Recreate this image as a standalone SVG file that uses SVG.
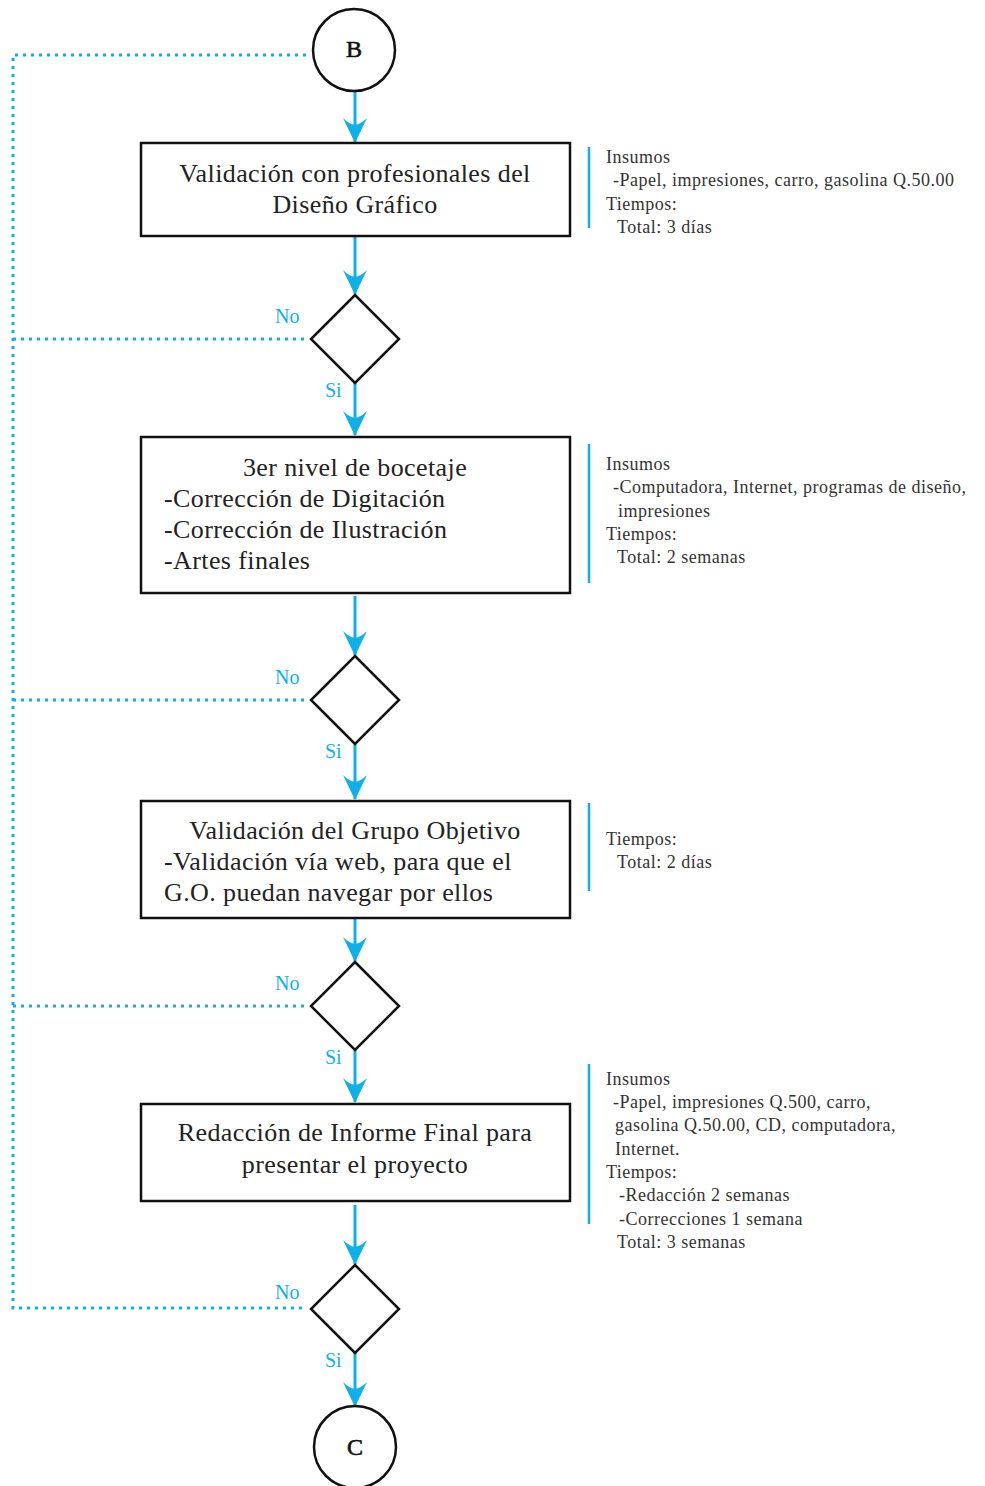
<svg xmlns="http://www.w3.org/2000/svg" width="985" height="1486" viewBox="0 0 985 1486">
  <style>
    .box { fill: #fff; stroke: #111; stroke-width: 2.5; }
    .term { fill: #fff; stroke: #111; stroke-width: 2.5; }
    .flow { fill: none; stroke: #0fb0ea; stroke-width: 3; }
    .loop { fill: none; stroke: #0fb0ea; stroke-width: 3; stroke-dasharray: 3 5; }
    .bar { stroke: #0fb0ea; stroke-width: 2.5; }
    .main { font-family: "Liberation Serif", "DejaVu Serif", serif; font-size: 26px; letter-spacing: 0.4px; fill: #222; }
    .mid { text-anchor: middle; }
    .note { font-family: "Liberation Serif", "DejaVu Serif", serif; font-size: 18px; letter-spacing: 0.5px; fill: #333; }
    .lbl { font-family: "Liberation Serif", "DejaVu Serif", serif; font-size: 20px; fill: #0fb0ea; }
    .tlabel { font-family: "Liberation Serif", "DejaVu Serif", serif; font-size: 24px; fill: #111; stroke: #111; stroke-width: 0.6; text-anchor: middle; }
  </style>
  <defs>
    <marker id="head" markerWidth="26" markerHeight="24" refX="25" refY="12" orient="auto" markerUnits="userSpaceOnUse" viewBox="0 0 26 24">
      <path d="M26,12 L1,0 Q7,6 8,12 Q7,18 1,24 Z" fill="#0fb0ea"/>
    </marker>
  </defs>

  <!-- connectors -->
  <g id="connectors">
    <!-- return loop on the left -->
    <path class="loop" d="M306,55 H13 V1308 H306"/>
    <line class="loop" x1="13" y1="339" x2="306" y2="339"/>
    <line class="loop" x1="13" y1="700" x2="306" y2="700"/>
    <line class="loop" x1="13" y1="1006" x2="306" y2="1006"/>

    <!-- main flow -->
    <path class="flow" d="M355,91 V142" marker-end="url(#head)"/>
    <path class="flow" d="M355,236 V294" marker-end="url(#head)"/>
    <path class="flow" d="M355,383 V435" marker-end="url(#head)"/>
    <path class="flow" d="M355,596 V655" marker-end="url(#head)"/>
    <path class="flow" d="M355,744 V799" marker-end="url(#head)"/>
    <path class="flow" d="M355,918 V961" marker-end="url(#head)"/>
    <path class="flow" d="M355,1050 V1102" marker-end="url(#head)"/>
    <path class="flow" d="M355,1205 V1264" marker-end="url(#head)"/>
    <path class="flow" d="M355,1353 V1406" marker-end="url(#head)"/>

    <!-- branch labels -->
    <text class="lbl" x="275" y="323">No</text>
    <text class="lbl" x="325" y="397">Si</text>
    <text class="lbl" x="275" y="684">No</text>
    <text class="lbl" x="325" y="758">Si</text>
    <text class="lbl" x="275" y="990">No</text>
    <text class="lbl" x="325" y="1064">Si</text>
    <text class="lbl" x="275" y="1299">No</text>
    <text class="lbl" x="325" y="1367">Si</text>
  </g>

  <!-- start connector B -->
  <g id="node-b">
    <circle class="term" cx="354" cy="50" r="41"/>
    <text class="tlabel" x="354" y="57">B</text>
  </g>

  <!-- step 1 -->
  <g id="node-validacion-profesionales">
    <rect class="box" x="141" y="143" width="429" height="93"/>
    <text class="main mid" x="355" y="182">Validación con profesionales del</text>
    <text class="main mid" x="355" y="213">Diseño Gráfico</text>
  </g>
  <g id="note-1">
    <line class="bar" x1="589" y1="147" x2="589" y2="228"/>
    <text class="note" x="606" y="163">Insumos</text>
    <text class="note" x="613" y="186">-Papel, impresiones, carro, gasolina Q.50.00</text>
    <text class="note" x="606" y="210">Tiempos:</text>
    <text class="note" x="617" y="233">Total: 3 días</text>
  </g>

  <g id="decision-1">
    <polygon class="box" points="355,295 399,339 355,383 311,339"/>
  </g>

  <!-- step 2 -->
  <g id="node-bocetaje">
    <rect class="box" x="141" y="437" width="429" height="156"/>
    <text class="main mid" x="355" y="476">3er nivel de bocetaje</text>
    <text class="main" x="164" y="507">-Corrección de Digitación</text>
    <text class="main" x="164" y="538">-Corrección de Ilustración</text>
    <text class="main" x="164" y="569">-Artes finales</text>
  </g>
  <g id="note-2">
    <line class="bar" x1="589" y1="444" x2="589" y2="583"/>
    <text class="note" x="606" y="470">Insumos</text>
    <text class="note" x="613" y="493">-Computadora, Internet, programas de diseño,</text>
    <text class="note" x="618" y="517">impresiones</text>
    <text class="note" x="606" y="540">Tiempos:</text>
    <text class="note" x="617" y="563">Total: 2 semanas</text>
  </g>

  <g id="decision-2">
    <polygon class="box" points="355,656 399,700 355,744 311,700"/>
  </g>

  <!-- step 3 -->
  <g id="node-grupo-objetivo">
    <rect class="box" x="141" y="801" width="429" height="117"/>
    <text class="main mid" x="355" y="839">Validación del Grupo Objetivo</text>
    <text class="main" x="164" y="870">-Validación vía web, para que el</text>
    <text class="main" x="164" y="901">G.O. puedan navegar por ellos</text>
  </g>
  <g id="note-3">
    <line class="bar" x1="589" y1="803" x2="589" y2="891"/>
    <text class="note" x="606" y="845">Tiempos:</text>
    <text class="note" x="617" y="868">Total: 2 días</text>
  </g>

  <g id="decision-3">
    <polygon class="box" points="355,962 399,1006 355,1050 311,1006"/>
  </g>

  <!-- step 4 -->
  <g id="node-informe-final">
    <rect class="box" x="141" y="1104" width="429" height="97"/>
    <text class="main mid" x="355" y="1141">Redacción de Informe Final para</text>
    <text class="main mid" x="355" y="1173">presentar el proyecto</text>
  </g>
  <g id="note-4">
    <line class="bar" x1="589" y1="1064" x2="589" y2="1224"/>
    <text class="note" x="606" y="1085">Insumos</text>
    <text class="note" x="613" y="1108">-Papel, impresiones Q.500, carro,</text>
    <text class="note" x="615" y="1131">gasolina Q.50.00, CD, computadora,</text>
    <text class="note" x="615" y="1155">Internet.</text>
    <text class="note" x="606" y="1178">Tiempos:</text>
    <text class="note" x="619" y="1201">-Redacción 2 semanas</text>
    <text class="note" x="619" y="1225">-Correcciones 1 semana</text>
    <text class="note" x="617" y="1248">Total: 3 semanas</text>
  </g>

  <g id="decision-4">
    <polygon class="box" points="355,1265 399,1309 355,1353 311,1309"/>
  </g>

  <!-- end connector C -->
  <g id="node-c">
    <circle class="term" cx="355" cy="1447" r="41"/>
    <text class="tlabel" x="355" y="1455">C</text>
  </g>
</svg>
